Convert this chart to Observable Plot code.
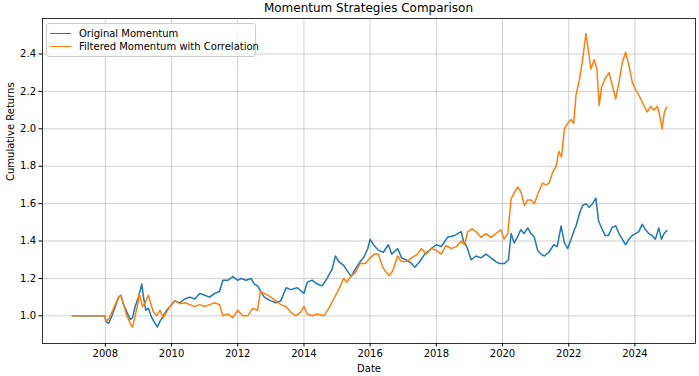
<!DOCTYPE html>
<html>
<head>
<meta charset="utf-8">
<script src="https://cdn.jsdelivr.net/npm/d3@7"></script>
<script src="https://cdn.jsdelivr.net/npm/@observablehq/plot@0.6"></script>
<style>
  html, body { margin: 0; padding: 0; background: #fff; }
  body { width: 699px; height: 376px; position: relative; overflow: hidden; font-family: "DejaVu Sans", sans-serif; }
  #title { height: 17px; line-height: 17px; font-size: 12px; text-align: center; padding-left: 38px; color: #000; white-space: nowrap; }
  #legend { position: absolute; left: 46px; top: 23px; width: 210px; height: 34px; background: rgba(255,255,255,0.8); border: 1px solid #cccccc; border-radius: 3px; font-size: 10px; color: #000; box-sizing: border-box; }
  #legend .row { position: absolute; left: 3px; height: 12px; display: flex; align-items: center; white-space: nowrap; }
  #legend .swatch { width: 21px; height: 0; border-top: 1.5px solid; margin-right: 8px; }
  svg { display: block; }
</style>
</head>
<body>
<div id="title">Momentum Strategies Comparison</div>
<div id="chart"></div>
<div id="legend"></div>
<script>
// ---- data (decimal years) ----
const seriesNames = ["Original Momentum", "Filtered Momentum with Correlation"];
const seriesColors = ["#1f77b4", "#ff7f0e"];

const originalYears = [2007.0,2007.98,2008.02,2008.1,2008.2,2008.3,2008.4,2008.47,2008.55,2008.65,2008.75,2008.82,2008.9,2009.0,2009.1,2009.15,2009.22,2009.3,2009.4,2009.5,2009.57,2009.65,2009.75,2009.85,2009.95,2010.1,2010.25,2010.4,2010.55,2010.7,2010.85,2011.0,2011.15,2011.3,2011.45,2011.55,2011.7,2011.85,2012.0,2012.1,2012.25,2012.4,2012.5,2012.6,2012.7,2012.8,2013.0,2013.15,2013.3,2013.46,2013.6,2013.8,2014.0,2014.1,2014.25,2014.4,2014.55,2014.7,2014.85,2014.95,2015.05,2015.2,2015.35,2015.43,2015.55,2015.7,2015.8,2015.93,2016.0,2016.1,2016.25,2016.4,2016.55,2016.65,2016.83,2016.95,2017.08,2017.25,2017.35,2017.5,2017.65,2017.85,2018.0,2018.15,2018.34,2018.55,2018.75,2018.82,2018.92,2019.05,2019.2,2019.35,2019.5,2019.65,2019.8,2019.9,2020.06,2020.18,2020.26,2020.35,2020.45,2020.55,2020.65,2020.76,2020.86,2020.96,2021.06,2021.16,2021.26,2021.4,2021.55,2021.65,2021.77,2021.87,2021.97,2022.07,2022.17,2022.22,2022.33,2022.42,2022.52,2022.62,2022.72,2022.82,2022.9,2022.99,2023.1,2023.2,2023.32,2023.42,2023.52,2023.62,2023.72,2023.82,2023.92,2024.02,2024.12,2024.22,2024.32,2024.42,2024.52,2024.62,2024.72,2024.8,2024.88,2024.96];
const originalValues = [1.0,1.0,0.97,0.96,1.0,1.05,1.1,1.11,1.06,1.02,0.98,0.99,1.05,1.1,1.17,1.1,1.03,1.04,0.99,0.96,0.94,0.97,1.0,1.03,1.05,1.08,1.07,1.09,1.10,1.09,1.12,1.11,1.10,1.12,1.13,1.19,1.19,1.21,1.19,1.20,1.19,1.2,1.17,1.16,1.13,1.10,1.08,1.07,1.08,1.15,1.14,1.15,1.12,1.18,1.19,1.17,1.16,1.2,1.25,1.32,1.29,1.27,1.23,1.21,1.25,1.29,1.31,1.36,1.41,1.38,1.35,1.34,1.38,1.33,1.36,1.31,1.30,1.28,1.26,1.29,1.33,1.36,1.38,1.37,1.42,1.43,1.45,1.40,1.37,1.30,1.32,1.31,1.33,1.31,1.29,1.28,1.28,1.30,1.44,1.39,1.42,1.46,1.44,1.47,1.44,1.42,1.35,1.33,1.32,1.34,1.38,1.37,1.48,1.39,1.36,1.41,1.46,1.48,1.55,1.59,1.60,1.58,1.60,1.63,1.51,1.47,1.43,1.43,1.475,1.48,1.44,1.41,1.38,1.41,1.43,1.44,1.45,1.49,1.46,1.44,1.43,1.41,1.47,1.41,1.44,1.456];

const filteredYears = [2007.0,2007.98,2008.02,2008.1,2008.2,2008.3,2008.4,2008.47,2008.55,2008.65,2008.75,2008.82,2008.9,2009.0,2009.02,2009.12,2009.2,2009.3,2009.38,2009.45,2009.55,2009.65,2009.75,2009.85,2009.95,2010.1,2010.25,2010.4,2010.55,2010.7,2010.85,2011.0,2011.15,2011.3,2011.45,2011.55,2011.7,2011.85,2012.0,2012.15,2012.3,2012.45,2012.6,2012.68,2012.8,2013.0,2013.15,2013.3,2013.45,2013.6,2013.75,2013.9,2014.0,2014.1,2014.25,2014.4,2014.6,2014.75,2014.9,2015.05,2015.2,2015.3,2015.43,2015.55,2015.7,2015.85,2016.0,2016.13,2016.25,2016.38,2016.5,2016.58,2016.68,2016.83,2016.95,2017.1,2017.25,2017.43,2017.55,2017.7,2017.85,2018.0,2018.15,2018.29,2018.45,2018.6,2018.75,2018.85,2018.95,2019.08,2019.2,2019.35,2019.5,2019.65,2019.8,2019.95,2020.05,2020.16,2020.26,2020.36,2020.46,2020.56,2020.66,2020.76,2020.86,2020.96,2021.06,2021.21,2021.31,2021.41,2021.52,2021.62,2021.7,2021.78,2021.87,2021.97,2022.07,2022.15,2022.22,2022.32,2022.42,2022.52,2022.6,2022.67,2022.77,2022.85,2022.92,2022.99,2023.1,2023.22,2023.32,2023.42,2023.52,2023.62,2023.72,2023.82,2023.92,2024.02,2024.12,2024.27,2024.37,2024.47,2024.57,2024.68,2024.75,2024.82,2024.89,2024.96];
const filteredValues = [1.0,1.0,0.975,0.98,1.02,1.06,1.10,1.11,1.06,1.0,0.96,0.94,1.0,1.08,1.12,1.05,1.07,1.11,1.06,1.02,1.0,1.03,0.99,1.02,1.05,1.08,1.065,1.07,1.06,1.05,1.06,1.05,1.06,1.07,1.06,1.00,1.01,0.99,1.03,1.0,1.0,1.04,1.03,1.13,1.12,1.10,1.08,1.06,1.05,1.02,1.0,1.02,1.05,1.01,1.0,1.01,1.0,1.04,1.09,1.14,1.2,1.18,1.215,1.23,1.28,1.28,1.31,1.33,1.33,1.26,1.23,1.215,1.24,1.32,1.29,1.29,1.31,1.33,1.36,1.33,1.36,1.35,1.33,1.376,1.36,1.37,1.40,1.38,1.45,1.465,1.45,1.42,1.44,1.42,1.44,1.46,1.41,1.44,1.626,1.66,1.69,1.66,1.59,1.62,1.62,1.60,1.65,1.71,1.70,1.71,1.77,1.80,1.88,1.85,2.0,2.03,2.05,2.03,2.18,2.26,2.37,2.51,2.41,2.32,2.37,2.32,2.125,2.22,2.27,2.30,2.23,2.16,2.25,2.356,2.41,2.34,2.25,2.21,2.18,2.125,2.09,2.12,2.10,2.12,2.07,2.0,2.09,2.116];

const yTicks = [1.0, 1.2, 1.4, 1.6, 1.8, 2.0, 2.2, 2.4];
const xTickYears = [2008, 2010, 2012, 2014, 2016, 2018, 2020, 2022, 2024];
const xDomainYears = [2006.1, 2025.83];
const yDomain = [0.852, 2.59];

// ---- helpers ----
function toDate(y) {
  const yr = Math.floor(y);
  const a = Date.UTC(yr, 0, 1), b = Date.UTC(yr + 1, 0, 1);
  return new Date(a + (y - yr) * (b - a));
}
const original = originalYears.map((y, i) => ({date: toDate(y), value: originalValues[i]}));
const filtered = filteredYears.map((y, i) => ({date: toDate(y), value: filteredValues[i]}));
const xTicks = xTickYears.map(toDate);

const gridStyle = {stroke: "#b0b0b0", strokeOpacity: 0.75, strokeWidth: 0.8};

const chart = Plot.plot({
  width: 699,
  height: 359,
  marginTop: 1,
  marginBottom: 33,
  marginLeft: 42,
  marginRight: 4,
  style: {fontFamily: "DejaVu Sans, sans-serif", fontSize: "10px", color: "#000", background: "#fff", overflow: "visible"},
  x: {type: "utc", domain: xDomainYears.map(toDate)},
  y: {domain: yDomain},
  marks: [
    Plot.gridX(xTicks, gridStyle),
    Plot.gridY(yTicks, gridStyle),
    Plot.axisX(xTicks, {tickFormat: d3.utcFormat("%Y"), tickSize: 3.5, tickPadding: 3, label: null, fontSize: 10}),
    Plot.axisY(yTicks, {tickFormat: d => d.toFixed(1), tickSize: 3.5, tickPadding: 3, label: null, fontSize: 10}),
    Plot.line(original, {x: "date", y: "value", stroke: seriesColors[0], strokeWidth: 1.5}),
    Plot.line(filtered, {x: "date", y: "value", stroke: seriesColors[1], strokeWidth: 1.5}),
    Plot.frame({stroke: "#000", strokeWidth: 0.8}),
    Plot.text(["Date"], {frameAnchor: "bottom", dy: 25, lineAnchor: "middle", fontSize: 10}),
    Plot.text(["Cumulative Returns"], {frameAnchor: "left", dx: -32, rotate: -90, lineAnchor: "middle", fontSize: 10})
  ]
});
document.getElementById("chart").appendChild(chart);

// legend
const legend = document.getElementById("legend");
seriesNames.forEach((name, i) => {
  const row = document.createElement("div");
  row.className = "row";
  row.style.top = (3 + i * 13.5) + "px";
  const sw = document.createElement("span");
  sw.className = "swatch";
  sw.style.borderTopColor = seriesColors[i];
  const tx = document.createElement("span");
  tx.textContent = name;
  row.appendChild(sw);
  row.appendChild(tx);
  legend.appendChild(row);
});
</script>
</body>
</html>
